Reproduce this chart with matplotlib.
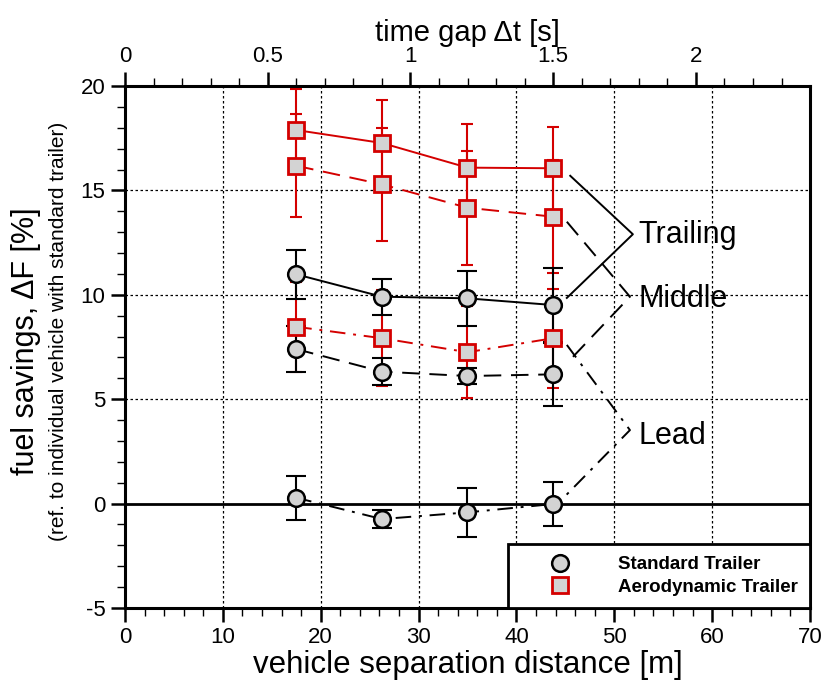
import matplotlib
matplotlib.use("Agg")
import matplotlib.pyplot as plt
from matplotlib.lines import Line2D

plt.rcParams['font.family'] = ['Liberation Sans', 'DejaVu Sans']
plt.rcParams['axes.unicode_minus'] = False

# data
distance = [17.5, 26.25, 35.0, 43.75]   # m
speed = 29.17                            # m/s (time gap = distance / speed)

std_trailing = [10.98, 9.91, 9.83, 9.51]
std_trailing_err = [1.18, 0.87, 1.33, 1.79]
std_middle = [7.40, 6.32, 6.11, 6.19]
std_middle_err = [1.12, 0.63, 0.40, 1.52]
std_lead = [0.28, -0.74, -0.42, -0.02]
std_lead_err = [1.06, 0.42, 1.18, 1.06]

aero_trailing = [17.89, 17.27, 16.09, 16.06]
aero_trailing_err = [1.97, 2.06, 2.08, 1.99]
aero_middle = [16.18, 15.29, 14.17, 13.74]
aero_middle_err = [2.46, 2.70, 2.73, 2.71]
aero_lead = [8.47, 7.92, 7.25, 7.92]
aero_lead_err = [2.16, 2.29, 2.21, 2.36]

labels = ["Trailing", "Middle", "Lead"]
legend_labels = ["Standard Trailer", "Aerodynamic Trailer"]

RED = '#d40000'
GRAY = '#d3d3d3'

W, H = 824, 683
fig = plt.figure(figsize=(W / 100, H / 100), dpi=100)
ax = fig.add_axes([125 / W, 1 - 608 / H, (810 - 125) / W, (608 - 86) / H])

ax.set_xlim(0, 70)
ax.set_ylim(-5, 20)

# grid
for gx in [10, 20, 30, 40, 50, 60]:
    ax.axvline(gx, color='black', lw=0.9, ls=(0, (2, 2)), zorder=0)
for gy in [5, 10, 15]:
    ax.axhline(gy, color='black', lw=0.9, ls=(0, (2, 2)), zorder=0)
ax.axhline(0, color='black', lw=2.0, zorder=1)

dash = (0, (9, 5))
dashdot = (0, (8, 4, 1.5, 4))

series = [
    (aero_trailing, aero_trailing_err, RED, '-', 's', 4.5),
    (aero_middle, aero_middle_err, RED, dash, 's', 4.5),
    (aero_lead, aero_lead_err, RED, dashdot, 's', 4.5),
    (std_trailing, std_trailing_err, 'black', '-', 'o', 7),
    (std_middle, std_middle_err, 'black', dash, 'o', 7),
    (std_lead, std_lead_err, 'black', dashdot, 'o', 7),
]
for vals, errs, col, ls, mk, cs in series:
    ax.errorbar(distance, vals, yerr=errs, fmt='none', ecolor=col,
                elinewidth=1.5, capsize=cs, capthick=1.5, zorder=2)
for vals, errs, col, ls, mk, cs in series:
    ax.plot(distance, vals, color=col, ls=ls, lw=1.4, zorder=3)
for vals, errs, col, ls, mk, cs in series:
    ms = 11.5 if mk == 's' else 12
    ax.plot(distance, vals, ls='none', marker=mk, ms=ms, mfc=GRAY,
            mec=col, mew=2 if mk == 's' else 1.8, zorder=4)

# bracket annotations
ax.plot([45.5, 51.9, 45.15], [15.7, 12.9, 9.85], color='black', lw=1.4, zorder=3)
ax.plot([45.15, 51.6, 45.15], [13.5, 9.91, 6.72], color='black', lw=1.4, ls=dash, zorder=3)
ax.plot([45.15, 51.6, 44.9], [7.6, 3.52, 0.32], color='black', lw=1.4, ls=dashdot, zorder=3)
ax.text(52.5, 12.85, labels[0], fontsize=22, va='center', ha='left')
ax.text(52.5, 9.8, labels[1], fontsize=22, va='center', ha='left')
ax.text(52.5, 3.25, labels[2], fontsize=22, va='center', ha='left')

# ticks
ax.set_xticks(range(0, 71, 10))
ax.set_xticks(range(0, 71, 2), minor=True)
ax.set_yticks(range(-5, 21, 5))
ax.set_yticks(range(-5, 21, 1), minor=True)
ax.tick_params(which='major', direction='out', length=10, width=1.8, labelsize=16, right=False, pad=4)
ax.tick_params(which='minor', direction='out', length=5.5, width=1.0, right=False)
for s in ax.spines.values():
    s.set_linewidth(2.2)

ax.set_xlabel("vehicle separation distance [m]", fontsize=22.5, labelpad=1)

sec = ax.secondary_xaxis('top', functions=(lambda d: d / speed, lambda t: t * speed))
sec.set_xticks([0, 0.5, 1, 1.5, 2])
sec.set_xticklabels(['0', '0.5', '1', '1.5', '2'])
sec.set_xticks([i / 10 for i in range(0, 24)], minor=True)
sec.tick_params(which='major', direction='out', length=10, width=1.8, labelsize=16, pad=4)
sec.tick_params(which='minor', direction='out', length=5.5, width=1.0)
sec.set_xlabel("time gap Δt [s]", fontsize=21, labelpad=3)

fig.text(26 / W, 1 - 341 / H, "fuel savings, ΔF [%]", rotation=90, fontsize=22,
         ha='center', va='center')
fig.text(59 / W, 1 - 331 / H, "(ref. to individual vehicle with standard trailer)",
         rotation=90, fontsize=15, ha='center', va='center')

handles = [
    Line2D([], [], ls='none', marker='o', ms=12, mfc=GRAY, mec='black', mew=1.8),
    Line2D([], [], ls='none', marker='s', ms=11, mfc=GRAY, mec=RED, mew=2),
]
leg = ax.legend(handles, legend_labels, loc='lower right', bbox_to_anchor=(1.0, 0.0),
                frameon=True, fancybox=False, borderaxespad=0, borderpad=0.65,
                handletextpad=1.0, labelspacing=0.3, handlelength=4.2,
                prop={'weight': 'bold', 'size': 13.5})
leg.get_frame().set_edgecolor('black')
leg.get_frame().set_linewidth(2)
leg.get_frame().set_alpha(1)

fig.savefig("out.png", dpi=100)
